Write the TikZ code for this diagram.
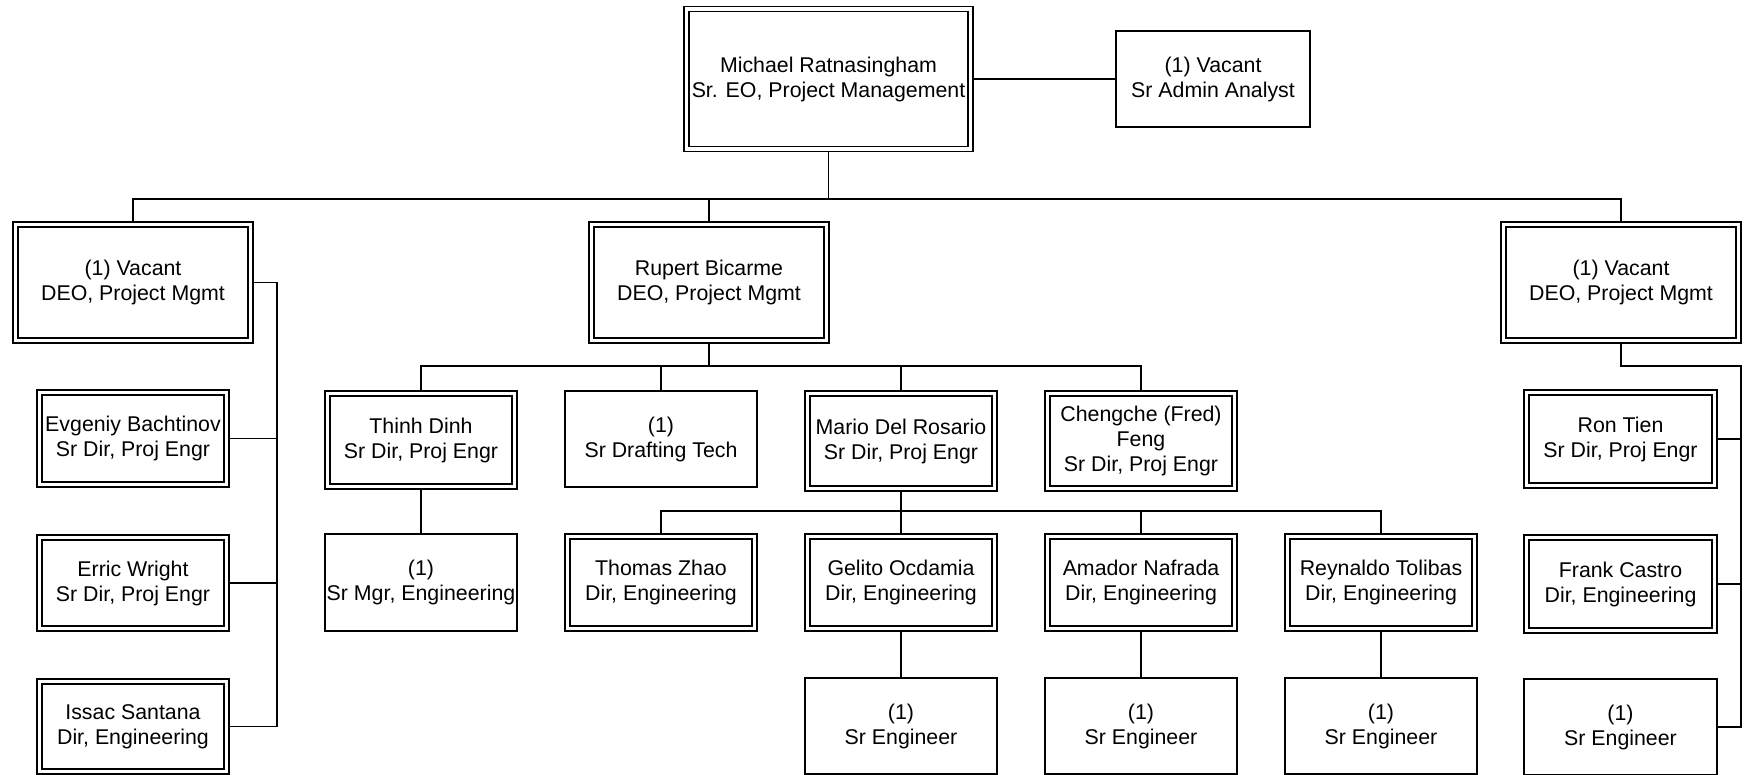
\documentclass[tikz,border=0pt]{standalone}
\usepackage{fontspec}
\setmainfont{Liberation Sans}
\begin{document}
\begin{tikzpicture}[x=0.75pt,y=-0.75pt,
  sbox/.style 2 args={draw, line width=1.35pt, inner sep=0pt, outer sep=0pt, align=center,
    font=\fontsize{16}{18.75}\selectfont,
    minimum width=(#1)*0.75pt, minimum height=(#2)*0.75pt},
  dbox/.style 2 args={sbox={#1-5}{#2-5}, double, double distance=2.4pt, outer sep=1.875pt},
  conn/.style={line width=1.35pt}]
\useasboundingbox (0,0) rectangle (1744,774);

% top level
\node[dbox={289}{145}] (top) at (828.5,79) {Michael Ratnasingham\\Sr. EO, Project Management};
\node[sbox={194}{96}] (admin) at (1213,79) {(1) Vacant\\Sr Admin Analyst};

% second level
\node[dbox={240}{121}] (ldeo) at (133,282.5) {(1) Vacant\\DEO, Project Mgmt};
\node[dbox={240}{121}] (rupert) at (709,282.5) {Rupert Bicarme\\DEO, Project Mgmt};
\node[dbox={240}{121}] (rdeo) at (1621,282.5) {(1) Vacant\\DEO, Project Mgmt};

% Rupert's reports
\node[dbox={192}{98}] (thinh) at (421,440) {Thinh Dinh\\Sr Dir, Proj Engr};
\node[sbox={192}{96}] (drafting) at (661,439) {(1)\\Sr Drafting Tech};
\node[dbox={192}{100}] (mario) at (901,441) {Mario Del Rosario\\Sr Dir, Proj Engr};
\node[dbox={192}{100}] (chengche) at (1141,441) {Chengche (Fred)\\Feng\\Sr Dir, Proj Engr};

\node[sbox={192}{97}] (srmgr) at (421,582.5) {(1)\\Sr Mgr, Engineering};
\node[dbox={192}{97}] (thomas) at (661,582.5) {Thomas Zhao\\Dir, Engineering};
\node[dbox={192}{97}] (gelito) at (901,582.5) {Gelito Ocdamia\\Dir, Engineering};
\node[dbox={192}{97}] (amador) at (1141,582.5) {Amador Nafrada\\Dir, Engineering};
\node[dbox={192}{97}] (reynaldo) at (1381,582.5) {Reynaldo Tolibas\\Dir, Engineering};

\node[sbox={192}{96}] (sreng1) at (901,726) {(1)\\Sr Engineer};
\node[sbox={192}{96}] (sreng2) at (1141,726) {(1)\\Sr Engineer};
\node[sbox={192}{96}] (sreng3) at (1381,726) {(1)\\Sr Engineer};

% left column
\node[dbox={192}{97}] (evgeniy) at (133,438.5) {Evgeniy Bachtinov\\Sr Dir, Proj Engr};
\node[dbox={192}{96}] (erric) at (133,583) {Erric Wright\\Sr Dir, Proj Engr};
\node[dbox={192}{95}] (issac) at (133,726.5) {Issac Santana\\Dir, Engineering};

% right column
\node[dbox={193}{98}] (ron) at (1620.5,439) {Ron Tien\\Sr Dir, Proj Engr};
\node[dbox={193}{98}] (frank) at (1620.5,584) {Frank Castro\\Dir, Engineering};
\node[sbox={193}{96}] (sreng4) at (1620.5,727) {(1)\\Sr Engineer};

% connectors
\coordinate (b1) at (0,199);
\coordinate (b2) at (0,366);
\coordinate (b3) at (0,511);
\coordinate (lb) at (277,0);
\coordinate (rb) at (1741,366);

\draw[conn] (top.east) -- (admin.west);
\draw[conn] (top.south) -- (top.south |- b1);
\draw[conn] (ldeo.north) |- (b1 -| rdeo.north) -- (rdeo.north);
\draw[conn] (rupert.north) -- (rupert.north |- b1);

\draw[conn] (rupert.south) -- (rupert.south |- b2);
\draw[conn] (thinh.north) |- (b2 -| chengche.north) -- (chengche.north);
\draw[conn] (drafting.north) -- (drafting.north |- b2);
\draw[conn] (mario.north) -- (mario.north |- b2);
\draw[conn] (thinh.south) -- (srmgr.north);

\draw[conn] (mario.south) -- (mario.south |- b3);
\draw[conn] (thomas.north) |- (b3 -| reynaldo.north) -- (reynaldo.north);
\draw[conn] (gelito.north) -- (gelito.north |- b3);
\draw[conn] (amador.north) -- (amador.north |- b3);
\draw[conn] (gelito.south) -- (sreng1.north);
\draw[conn] (amador.south) -- (sreng2.north);
\draw[conn] (reynaldo.south) -- (sreng3.north);

\draw[conn] (ldeo.east) -| (lb |- issac.east) -- (issac.east);
\draw[conn] (evgeniy.east) -- (evgeniy.east -| lb);
\draw[conn] (erric.east) -- (erric.east -| lb);

\draw[conn] (rdeo.south) |- (rb) -- (rb |- sreng4.east) -- (sreng4.east);
\draw[conn] (ron.east) -- (ron.east -| rb);
\draw[conn] (frank.east) -- (frank.east -| rb);
\end{tikzpicture}
\end{document}
